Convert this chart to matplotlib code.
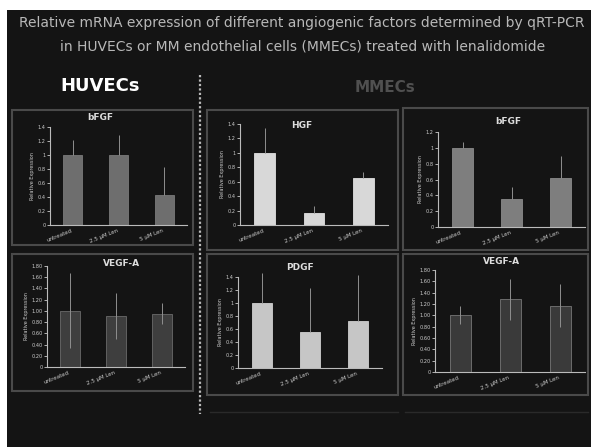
import numpy as np
import matplotlib.pyplot as plt
from matplotlib.patches import Rectangle
from matplotlib.lines import Line2D

# dados (expressão relativa, não tratado = 1)
grupos = ["untreated", "2.5 \u00b5M Len", "5 \u00b5M Len"]

huvec_bfgf = [1.0, 1.0, 0.43]
huvec_bfgf_err = [0.21, 0.29, 0.40]

huvec_vegfa = [1.0, 0.91, 0.95]
huvec_vegfa_err = [0.67, 0.41, 0.19]

mmec_hgf = [1.0, 0.17, 0.65]
mmec_hgf_err = [0.35, 0.09, 0.08]

mmec_pdgf = [1.0, 0.55, 0.72]
mmec_pdgf_err = [0.46, 0.68, 0.71]

mmec_bfgf = [1.0, 0.36, 0.62]
mmec_bfgf_err = [0.08, 0.14, 0.28]

mmec_vegfa = [1.0, 1.28, 1.17]
mmec_vegfa_err = [0.16, 0.36, 0.38]

W, H = 591, 447
BG = "#141414"

fig = plt.figure(figsize=(W / 100, H / 100), dpi=100)
fig.patch.set_facecolor("white")


def fx(x):
    return x / W


def fy(y):
    return 1 - y / H


# fundo escuro (margem branca em cima e à esquerda)
fig.patches.append(Rectangle((fx(7), 0), 1 - fx(7), fy(10), transform=fig.transFigure,
                             facecolor=BG, edgecolor="none", zorder=-10))

fig.text(fx(302), fy(23), "Relative mRNA expression of different angiogenic factors determined by qRT-PCR",
         ha="center", va="center", color="#b8b8b8", fontsize=10)
fig.text(fx(303), fy(46), "in HUVECs or MM endothelial cells (MMECs) treated with lenalidomide",
         ha="center", va="center", color="#b8b8b8", fontsize=10)

fig.text(fx(100), fy(86), "HUVECs", ha="center", va="center", color="white",
         fontsize=13, fontweight="bold")
fig.text(fx(385), fy(88), "MMECs", ha="center", va="center", color="#505050",
         fontsize=11, fontweight="bold")

# linha pontilhada separando os grupos
fig.lines.append(Line2D([fx(200), fx(200)], [fy(75), fy(414)], transform=fig.transFigure,
                        color="#bbbbbb", lw=1.6, linestyle=(0, (1, 1)), zorder=1))
for x0, x1 in [(210, 398), (405, 588)]:
    fig.lines.append(Line2D([fx(x0), fx(x1)], [fy(412), fy(412)], transform=fig.transFigure,
                            color="#2a2a2a", lw=1, zorder=1))


def painel(box, area, titulo, tpos, vals, errs, cor, borda, ymax, fmt, simetrico=False):
    bx0, by0, bx1, by1 = box
    fig.patches.append(Rectangle((fx(bx0), fy(by1)), fx(bx1 - bx0), (by1 - by0) / H,
                                 transform=fig.transFigure, fill=False,
                                 edgecolor="#4a4a4a", lw=1.5, zorder=1))
    x0, y0, x1, y1 = area
    ax = fig.add_axes([fx(x0), fy(y1), fx(x1 - x0), (y1 - y0) / H])
    ax.set_zorder(2)
    ax.patch.set_alpha(0)
    pos = np.arange(len(vals))
    ax.bar(pos, vals, width=0.42, color=cor, edgecolor=borda, linewidth=0.6)
    if simetrico:
        yerr = errs
    else:
        yerr = [np.zeros(len(errs)), errs]
    ax.errorbar(pos, vals, yerr=yerr, fmt="none", ecolor="#8f8f8f", elinewidth=0.7,
                capsize=0, clip_on=False)
    ax.set_xlim(-0.5, 2.5)
    ax.set_ylim(0, ymax)
    ticks = np.arange(0, ymax + 1e-9, 0.2)
    ax.set_yticks(ticks)
    ax.set_yticklabels([fmt(t) for t in ticks])
    ax.set_xticks(pos)
    ax.set_xticklabels(grupos, rotation=22, ha="right")
    for s in ["top", "right"]:
        ax.spines[s].set_visible(False)
    for s in ["left", "bottom"]:
        ax.spines[s].set_color("#bbbbbb")
        ax.spines[s].set_linewidth(0.8)
    ax.tick_params(colors="#cccccc", labelsize=3.6, length=2, width=0.6, pad=1)
    ax.tick_params(axis="x", length=0, pad=2, labelsize=4)
    ax.set_ylabel("Relative Expression", color="#cccccc", fontsize=3.5, labelpad=2)
    fig.text(fx(tpos[0]), fy(tpos[1]), titulo, ha="center", va="center",
             color="#dddddd", fontsize=6.5, fontweight="bold")
    return ax


def geral(t):
    return "0" if t == 0 else ("%g" % round(t, 2))


def dois(t):
    return "0" if t == 0 else "%.2f" % t


painel((12, 110, 193, 245), (50, 127, 187, 225), "bFGF", (100, 118),
       huvec_bfgf, huvec_bfgf_err, "#6e6e6e", "#7a7a7a", 1.4, geral)
painel((12, 254, 193, 391), (47, 266, 185, 367), "VEGF-A", (122, 264),
       huvec_vegfa, huvec_vegfa_err, "#3e3e3e", "#6a6a6a", 1.8, dois, simetrico=True)

painel((207, 110, 398, 250), (240, 124, 388, 225), "HGF", (302, 125),
       mmec_hgf, mmec_hgf_err, "#d8d8d8", "#e0e0e0", 1.4, geral)
painel((207, 254, 398, 395), (238, 277, 382, 368), "PDGF", (300, 267),
       mmec_pdgf, mmec_pdgf_err, "#c6c6c6", "#d0d0d0", 1.4, geral)

painel((403, 108, 588, 250), (438, 132, 585, 227), "bFGF", (508, 122),
       mmec_bfgf, mmec_bfgf_err, "#7e7e7e", "#8a8a8a", 1.2, geral)
painel((403, 254, 588, 395), (435, 270, 585, 372), "VEGF-A", (502, 262),
       mmec_vegfa, mmec_vegfa_err, "#3a3a3a", "#777777", 1.8, dois, simetrico=True)

fig.savefig("out.png", dpi=100, facecolor=fig.get_facecolor())
